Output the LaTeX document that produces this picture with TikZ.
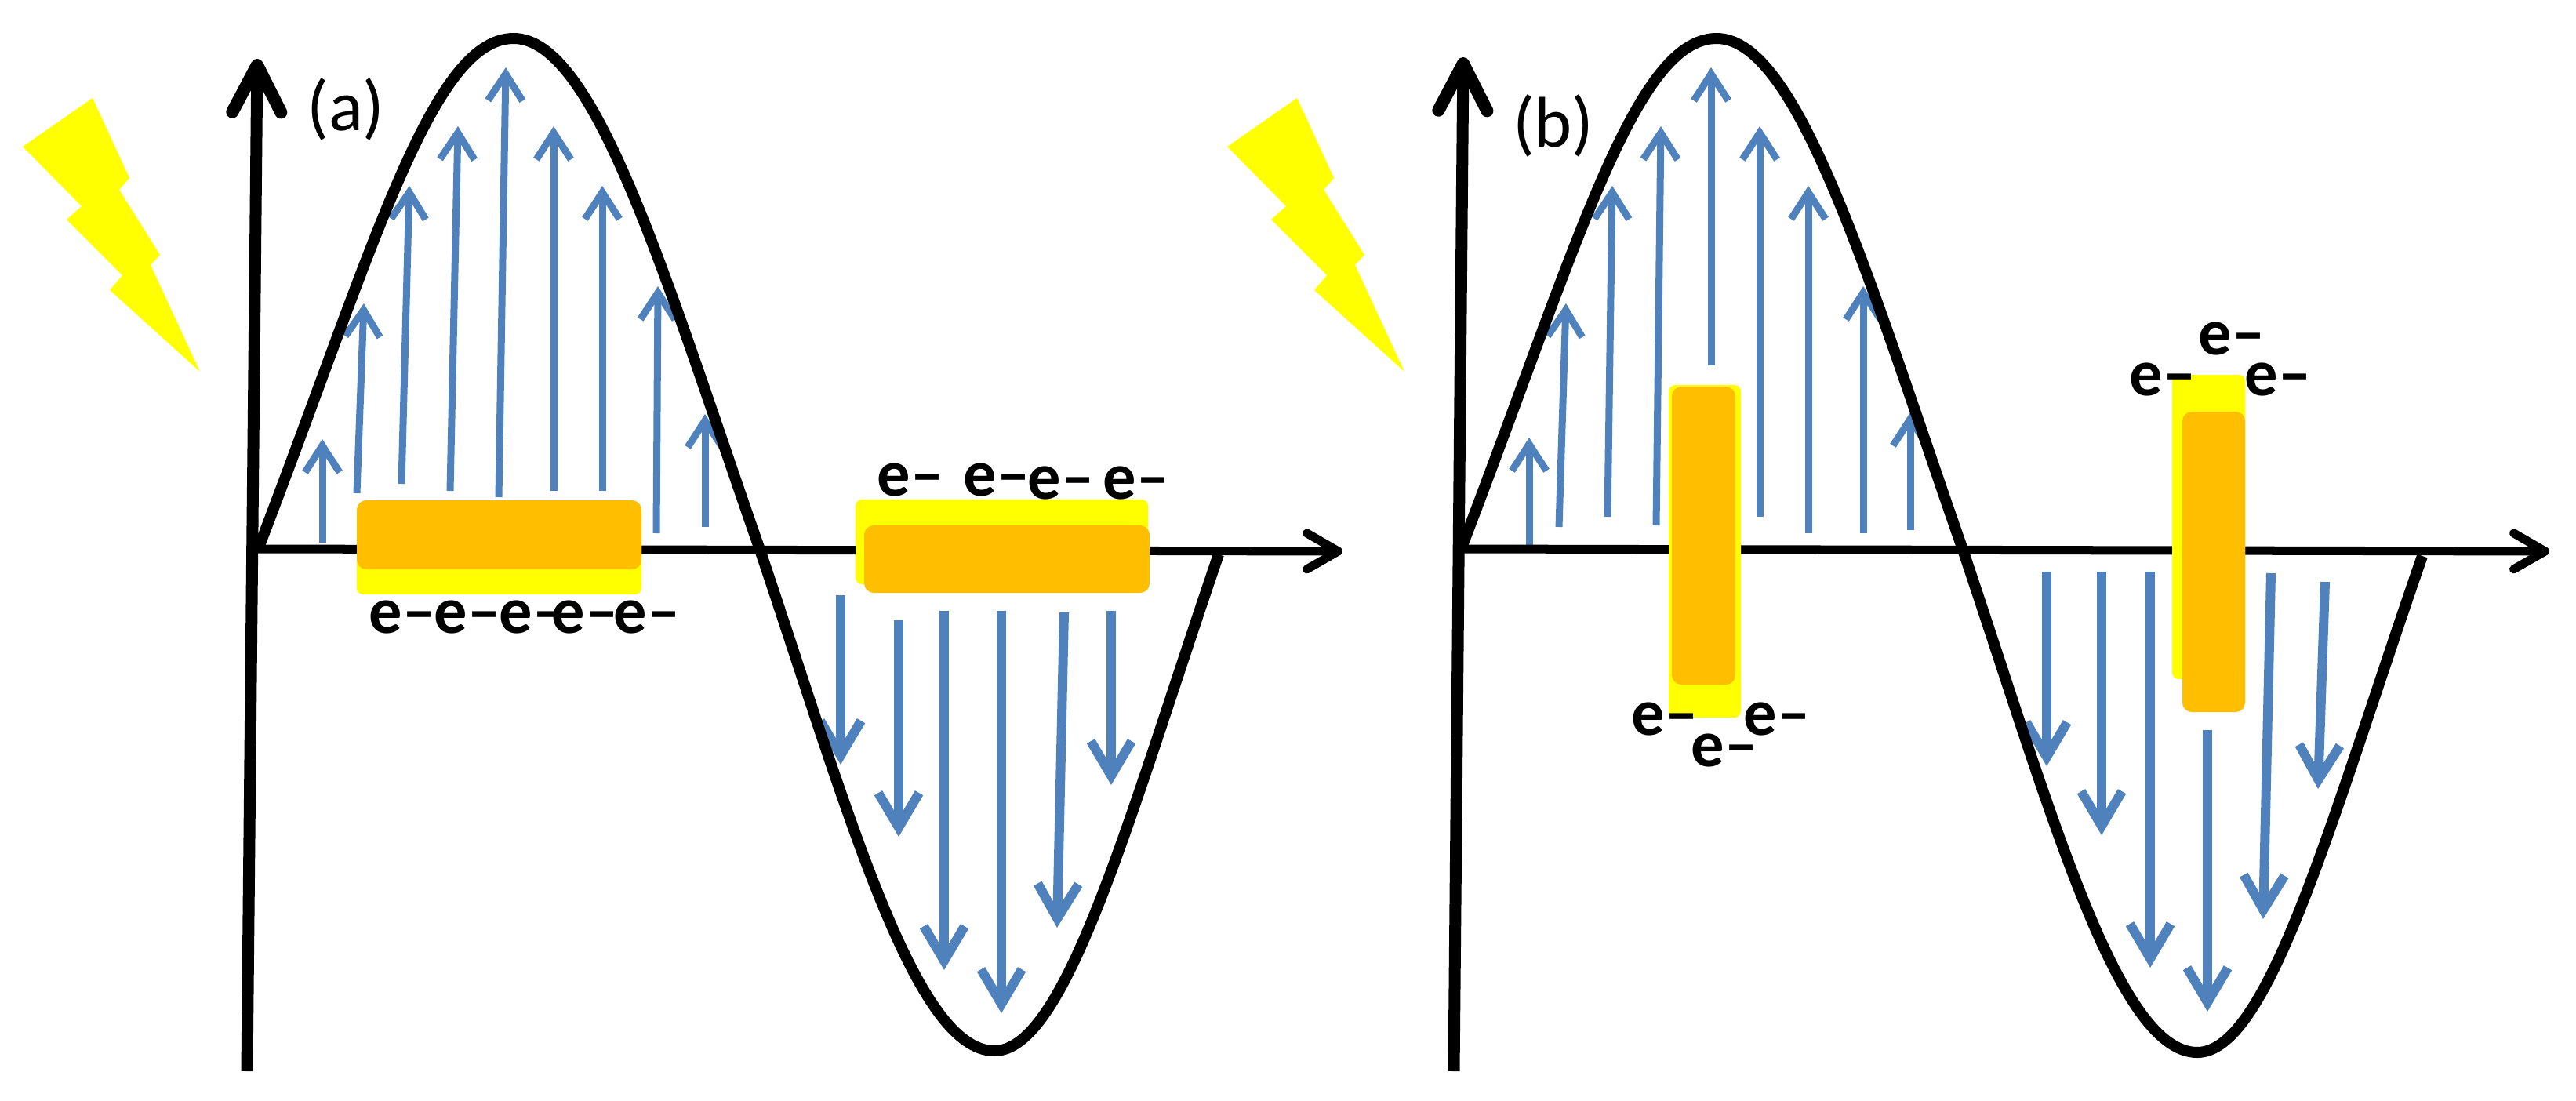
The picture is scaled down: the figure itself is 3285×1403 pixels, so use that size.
\documentclass[tikz,border=0pt]{standalone}
\usepackage{fontspec}
\setmainfont{Carlito}
\usetikzlibrary{arrows.meta}
\definecolor{fieldblue}{HTML}{4F81BD}
\definecolor{barorange}{HTML}{FFBE00}
\definecolor{baryellow}{HTML}{FFFF00}

\begin{document}
\begin{tikzpicture}[x=0.01cm, y=-0.01cm,
% Axes and wave style
		yaxis/.style={line width=0.15cm
							    , -{Straight Barb[round, length=0.6cm, width=0.62cm, line width=0.16cm]}},
		xaxis/.style={line width=0.11cm
							    , -{Straight Barb[round, length=0.4cm, width=0.46cm, line width=0.11cm]}},
		wave/.style={line width=0.14cm
							    , line join=round},
% Field arrows style
		fieldup/.style={draw=fieldblue, line width=0.09cm
							    , -{Straight Barb[length=0.34cm, width=0.44cm]}},
		fielddown/.style={draw=fieldblue, line width=0.12cm
							    , -{Straight Barb[length=0.44cm, width=0.52cm]}},
% Bars and labels style
		glow/.style={fill=baryellow, rounded corners=0.08cm},
		bar/.style={fill=barorange, rounded corners=0.12cm},
		flash/.style={fill=baryellow},
		electron/.style={inner sep=0pt
							    , anchor=base west
							    , font=\fontsize{24}{28}\bfseries\selectfont},
		panel/.style={inner sep=0pt
							    , anchor=base
							    , font=\fontsize{26}{30}\selectfont}
	]
	\useasboundingbox (0,0) rectangle (3285,1403);
%% Panel (a)
	\begin{scope}
		\fill [flash] (29,187) -- (118,125) -- (165,227) -- (152,242) -- (204,325) -- (192,338) -- (255,474)
			-- (140,370) -- (156,351) -- (85,280) -- (104,263) -- cycle;
		\draw [fieldup] (411,692) -- (411,560);
		\draw [fieldup] (455,629) -- (464,387);
		\draw [fieldup] (512,617) -- (522,237);
		\draw [fieldup] (574,626) -- (584,161);
		\draw [fieldup] (636,634) -- (645,86);
		\draw [fieldup] (706,626) -- (706,161);
		\draw [fieldup] (768,626) -- (768,237);
		\draw [fieldup] (837,680) -- (839,365);
		\draw [fieldup] (899,672) -- (899,528);
		\draw [fielddown] (1072,759) -- (1072,975);
		\draw [fielddown] (1146,791) -- (1146,1067);
		\draw [fielddown] (1204,779) -- (1204,1237);
		\draw [fielddown] (1277,779) -- (1277,1292);
		\draw [fielddown] (1357,781) -- (1348,1183);
		\draw [fielddown] (1417,779) -- (1417,1001);
		\draw [yaxis] (315,1366) -- (328,75);
		\draw [xaxis] (328,700) -- (1712,703);
		\draw [wave] (330,698) .. controls (475,320) and (550,49) .. (655,49)
			.. controls (760,49) and (850,360) .. (969,701)
			.. controls (1080,1030) and (1165,1340) .. (1268,1340)
			.. controls (1360,1340) and (1440,1040) .. (1554,707);
		\fill [glow] (455,650) rectangle (818,758);
		\fill [bar] (455,638) rectangle (818,726);
		\fill [glow] (1091,637) rectangle (1464,745);
		\fill [bar] (1102,670) rectangle (1466,756);
		\node [panel] (a) at (441,166) {(a)};
		\node [electron] (a1) at (470,807) {e–};
		\node [electron] (a2) at (553,807) {e–};
		\node [electron] (a3) at (636,807) {e–};
		\node [electron] (a4) at (703,807) {e–};
		\node [electron] (a5) at (782,807) {e–};
		\node [electron] (a6) at (1118,632) {e–};
		\node [electron] (a7) at (1228,632) {e–};
		\node [electron] (a8) at (1310,636) {e–};
		\node [electron] (a9) at (1406,636) {e–};
	\end{scope}
%% Panel (b)
	\begin{scope}
		\fill [flash] (1565,187) -- (1654,125) -- (1701,227) -- (1688,242) -- (1740,325) -- (1728,338) -- (1791,474)
			-- (1676,370) -- (1692,351) -- (1621,280) -- (1640,263) -- cycle;
		\draw [fieldup] (1950,699) -- (1950,558);
		\draw [fieldup] (1988,672) -- (1997,387);
		\draw [fieldup] (2050,659) -- (2056,237);
		\draw [fieldup] (2112,670) -- (2118,161);
		\draw [fieldup] (2182,466) -- (2182,86);
		\draw [fieldup] (2244,659) -- (2244,161);
		\draw [fieldup] (2306,680) -- (2306,237);
		\draw [fieldup] (2376,680) -- (2376,365);
		\draw [fieldup] (2436,676) -- (2436,526);
		\draw [fielddown] (2610,729) -- (2610,977);
		\draw [fielddown] (2680,729) -- (2680,1065);
		\draw [fielddown] (2742,729) -- (2742,1234);
		\draw [fielddown] (2815,931) -- (2815,1290);
		\draw [fielddown] (2896,731) -- (2886,1172);
		\draw [fielddown] (2965,742) -- (2956,1006);
		\draw [yaxis] (1854,1366) -- (1866,73);
		\draw [xaxis] (1862,700) -- (3251,703);
		\draw [wave] (1864,698) .. controls (2009,320) and (2084,49) .. (2189,49)
			.. controls (2294,49) and (2384,360) .. (2503,701)
			.. controls (2614,1030) and (2699,1342) .. (2802,1342)
			.. controls (2894,1342) and (2974,1040) .. (3089,709);
		\fill [glow] (2128,491) rectangle (2220,915);
		\fill [bar] (2132,493) rectangle (2213,873);
		\fill [glow] (2770,478) rectangle (2863,866);
		\fill [bar] (2783,525) rectangle (2863,908);
		\node [panel] (b) at (1981,187) {(b)};
		\node [electron] (b1) at (2080,937) {e–};
		\node [electron] (b2) at (2156,977) {e–};
		\node [electron] (b3) at (2223,937) {e–};
		\node [electron] (b4) at (2803,452) {e–};
		\node [electron] (b5) at (2715,504) {e–};
		\node [electron] (b6) at (2862,504) {e–};
	\end{scope}
\end{tikzpicture}
\end{document}
